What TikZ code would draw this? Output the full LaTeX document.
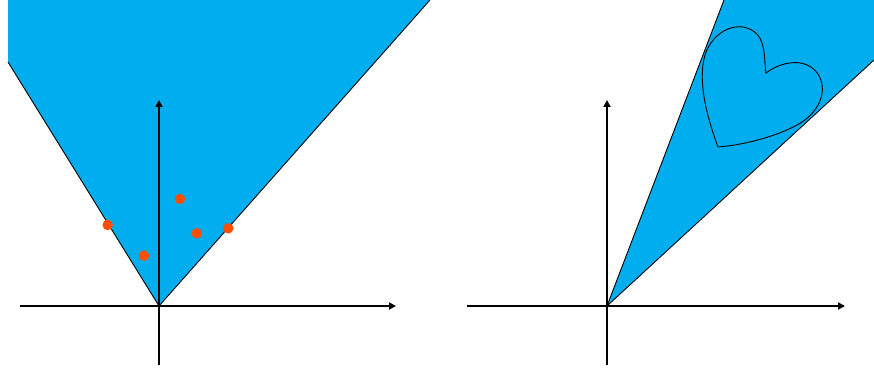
\documentclass[tikz,border=0pt]{standalone}
\usetikzlibrary{arrows.meta}
\definecolor{conefill}{HTML}{00AEEF}
\definecolor{dotcol}{HTML}{FF4E00}
\tikzset{
  axis/.style={line width=2.5pt,-{Triangle[length=7pt,width=7pt]}},
  coneedge/.style={line width=0.9pt},
  dot/.style={circle,fill=dotcol,inner sep=0pt,minimum size=10.5pt},
}
\begin{document}
\begin{tikzpicture}[x=1pt,y=-1pt]
\useasboundingbox (0,0) rectangle (874,371);
% left cone
\coordinate (O1) at (159,306);
\coordinate (L1) at (8,62);
\coordinate (R1) at (430,0);
\fill[conefill] (O1) -- (L1) -- (8,0) -- (R1) -- cycle;
\draw[coneedge] (L1) -- (O1) -- (R1);
% left axes
\coordinate (xa1) at (20,306);
\coordinate (xb1) at (396,306);
\coordinate (ya1) at (159,365);
\coordinate (yb1) at (159,100);
\draw[axis] (xa1) -- (xb1);
\draw[axis] (ya1) -- (yb1);
% points
\node[dot] (p1) at (107.7,225) {};
\node[dot] (p2) at (144,255.7) {};
\node[dot] (p3) at (180,199) {};
\node[dot] (p4) at (196.7,233.3) {};
\node[dot] (p5) at (228.3,228.3) {};
% right cone
\coordinate (O2) at (607,306);
\coordinate (L2) at (724,0);
\coordinate (R2) at (874,60);
\fill[conefill] (O2) -- (L2) -- (874,0) -- (R2) -- cycle;
\draw[coneedge] (L2) -- (O2) -- (R2);
% heart
\draw[line width=0.9pt,fill=conefill]
  (718,147) .. controls (708,120) and (697,82) .. (705,55)
  .. controls (713,30) and (740,18) .. (757,34)
  .. controls (766,44) and (764,62) .. (766,73)
  .. controls (782,61) and (806,57) .. (818,74)
  .. controls (828,90) and (820,110) .. (802,122)
  .. controls (782,135) and (745,145) .. (718,147) -- cycle;
% right axes
\coordinate (xa2) at (467,306);
\coordinate (xb2) at (845,306);
\coordinate (ya2) at (607,365);
\coordinate (yb2) at (607,100);
\draw[axis] (xa2) -- (xb2);
\draw[axis] (ya2) -- (yb2);
\end{tikzpicture}
\end{document}
